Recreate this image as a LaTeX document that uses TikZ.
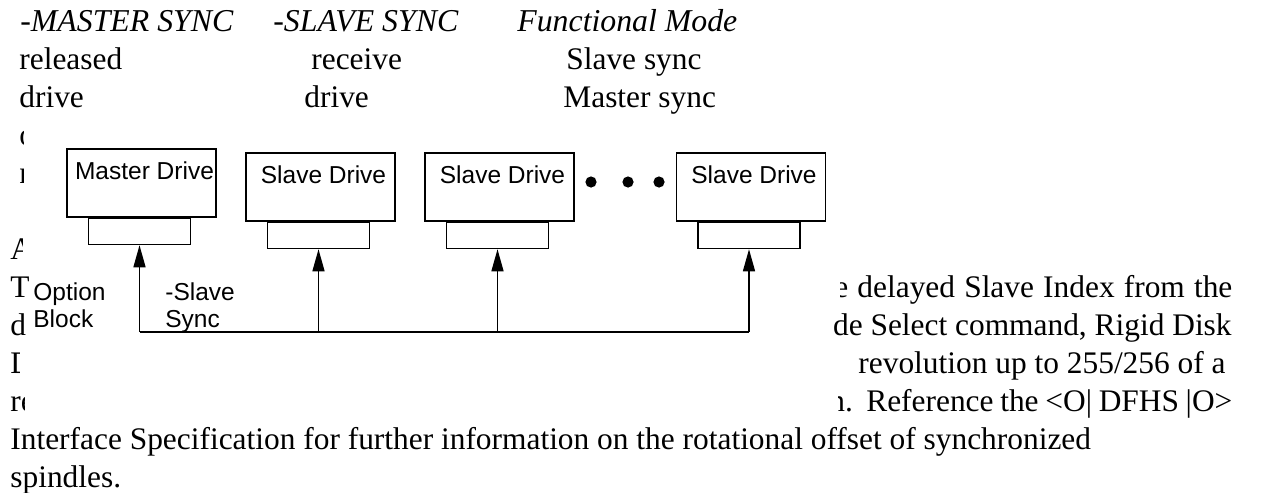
\documentclass[tikz,border=0pt]{standalone}
\usepackage{fontspec}
\setmainfont{Liberation Serif}
\newfontfamily\labelfont{Liberation Sans}
\usetikzlibrary{arrows.meta,positioning}

\tikzset{
  txt/.style={font=\fontsize{15.7}{19}\selectfont, anchor=base west, inner sep=0pt},
  hdr/.style={font=\fontsize{15.9}{19}\selectfont\itshape, anchor=base west, inner sep=0pt},
  drive/.style={draw, line width=0.75pt, fill=white, minimum width=74.5pt, minimum height=34pt, inner sep=0pt},
  dlbl/.style={font=\fontsize{12.25}{13.5}\selectfont\labelfont, anchor=north, inner sep=0pt},
  plug/.style={draw, line width=0.75pt, fill=white, minimum width=51pt, minimum height=13pt, inner sep=0pt, anchor=north},
  lbl/.style={font=\fontsize{12.25}{13.5}\selectfont\labelfont, align=left, anchor=north west, inner sep=0pt},
  sig/.style={line width=0.7pt, -{Triangle[length=11pt,width=6pt]}},
}

\begin{document}
\begin{tikzpicture}[x=0.5pt,y=-0.5pt]
\useasboundingbox (0,0) rectangle (1265,493);

% table above the figure
\node[hdr] (hms) at (20,31) {-MASTER SYNC};
\node[hdr] (hss) at (273,31) {-SLAVE SYNC};
\node[hdr] (hfm) at (517,31) {Functional Mode};
\node[txt] (t21) at (19,69) {released};
\node[txt] (t22) at (311,69) {receive};
\node[txt] (t23) at (566,69) {Slave sync};
\node[txt] (t31) at (19,107) {drive};
\node[txt] (t32) at (304,107) {drive};
\node[txt] (t33) at (563,107) {Master sync};

% text cut off by the figure, left side
\begin{scope}
  \clip (0,110) rectangle (23,152);
  \node[txt] (c4) at (19,145) {o};
\end{scope}
\begin{scope}
  \clip (0,152) rectangle (23,190);
  \node[txt] (c5) at (19,183) {n};
\end{scope}
\begin{scope}
  \clip (0,228) rectangle (22,266);
  \node[txt] (c7) at (10,259) {A};
\end{scope}
\node[txt] (c8) at (10,297) {T};
\node[txt] (c9) at (10,335) {d};
\begin{scope}
  \clip (0,342) rectangle (19,380);
  \node[txt] (c10) at (10,373) {D};
\end{scope}
\begin{scope}
  \clip (0,380) rectangle (24,418);
  \node[txt] (c11) at (10,411) {re};
\end{scope}

% text cut off by the figure, right side
\begin{scope}
  \clip (840,262) rectangle (1265,305);
  \node[txt] (r8) at (834,297) {\makebox[199pt][s]{e delayed Slave Index from the}};
\end{scope}
\node[txt, anchor=base east] (r9) at (1232,335) {de Select command, Rigid Disk};
\node[txt, anchor=base east] (r10) at (1226,373) {revolution up to 255/256 of a};
\begin{scope}
  \clip (838,380) rectangle (1265,420);
  \node[txt] (r11) at (829,411) {\makebox[201.5pt][s]{n.\ \ Reference the <O| DFHS |O>}};
\end{scope}
\node[txt] (t12) at (10,449) {Interface Specification for further information on the rotational offset of synchronized};
\node[txt] (t13) at (10,487) {spindles.};

% drives with their option blocks
\foreach \n/\x/\y/\t in {md/141.5/183/Master Drive, sd1/320.5/187/Slave Drive, sd2/499.5/187/Slave Drive, sd3/751/187/Slave Drive} {
  \node[drive] (\n) at (\x,\y) {};
  \node[dlbl] (\n-t) at ([xshift=1.5pt,yshift=-6.5pt]\n.north) {\t};
  \node[plug] (\n-p) at ([xshift=-1pt]\n.south) {};
}
\foreach \x in {591,628,659}
  \fill (\x,182) circle (2.8pt);

% sync line
\coordinate (bus) at (0,332);
\draw[line width=0.7pt] (md-p.south |- bus) -- (sd3-p.south |- bus);
\foreach \n in {md,sd1,sd2,sd3}
  \draw[sig] (\n-p.south |- bus) -- (\n-p.south);

\node[lbl] (opt) at (33,282) {Option\\Block};
\node[lbl] (sync) at (165,282) {-Slave\\Sync};
\end{tikzpicture}
\end{document}
